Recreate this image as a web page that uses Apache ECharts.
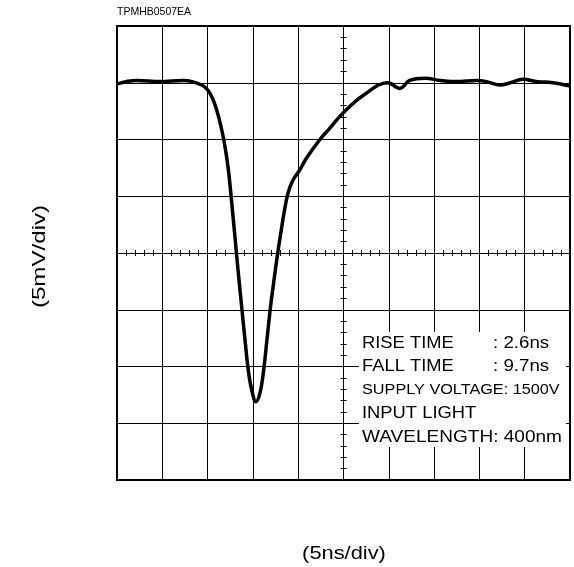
<!DOCTYPE html>
<html>
<head>
<meta charset="utf-8">
<script src="https://cdn.jsdelivr.net/npm/echarts@6/dist/echarts.min.js"></script>
<style>
html,body{margin:0;padding:0;background:#fff;}
#chart{width:574px;height:567px;}
</style>
</head>
<body>
<div id="chart"></div>
<script>
// Time (ns), 5 ns/div, 10 divisions
const timeNs = [0,2.2,4.7,7.3,9.35,10.27,11.0,11.56,11.92,12.25,12.53,12.77,13.05,13.39,13.76,14.13,14.49,14.87,15.34,15.78,16.15,16.55,16.94,17.33,17.74,18.08,18.43,18.87,19.43,20.17,20.92,22.4,23.5,24.9,27.2,29.9,31.2,32.3,34.0,35.7,37.5,39.7,40.8,42.3,43.4,44.8,46.4,48.1,50];
// Output voltage (mV), 5 mV/div, 8 divisions centred on 0
const voltageMv = [14.9,15.2,15.1,15.2,14.8,14.07,12.6,10.84,9.37,7.6,5.55,3.52,1.15,-1.76,-4.73,-7.67,-10.31,-12.07,-13.1,-12.34,-10.57,-7.67,-4.76,-2.38,0,1.76,3.5,5.26,6.43,7.31,8.37,10.0,11.0,12.3,13.9,15.0,14.5,15.2,15.4,15.2,15.1,15.2,15.1,14.8,15.0,15.3,15.1,15.0,14.7];
const infoLines = [
  ["RISE TIME", ": 2.6ns"],
  ["FALL TIME", ": 9.7ns"],
  ["SUPPLY VOLTAGE: 1500V", ""],
  ["INPUT LIGHT", ""],
  ["WAVELENGTH: 400nm", ""]
];
const titleText = "TPMHB0507EA";
const xLabel = "(5ns/div)";
const yLabel = "(5mV/div)";

const FONT = "Liberation Sans, Arial, sans-serif";
const gridRect = {left:117, top:26, right:4, bottom:87};
const chart = echarts.init(document.getElementById('chart'), null, {renderer:'canvas'});

function tickAxis(inside, extra){
  return Object.assign({
    type:'value',
    axisLine:{show:true, onZero:true, lineStyle:{color:'#000', width:1}},
    axisTick:{show:true, inside:inside, length:3, lineStyle:{color:'#000', width:1}},
    minorTick:{show:true, splitNumber:5, length:3, lineStyle:{color:'#000', width:1}},
    axisLabel:{show:false},
    splitLine:{show:false}
  }, extra);
}

const infoGraphics = [];
const lineY = [343, 366, 390, 413, 437];
const lineFont = [17, 17, 14, 17, 17];
const lineScale = [1.08, 1.08, 1.16, 1.08, 1.12];
infoLines.forEach((l, i) => {
  infoGraphics.push({
    type:'text', x:362, y:lineY[i], z:101, scaleX: lineScale[i],
    style:{text:l[0], fill:'#000', font:lineFont[i]+'px '+FONT, textVerticalAlign:'middle'}
  });
  if (l[1]) {
    infoGraphics.push({
      type:'text', x:493, y:lineY[i], z:101, scaleX:1.1,
      style:{text:l[1], fill:'#000', font:'17px '+FONT, textVerticalAlign:'middle'}
    });
  }
});

const option = {
  animation:false,
  backgroundColor:'#fff',
  title:{text:titleText, left:117, top:7, padding:0, textStyle:{fontSize:10.5, fontWeight:'normal', color:'#000', fontFamily:FONT}},
  grid:[
    Object.assign({show:true, borderColor:'#000', borderWidth:2, backgroundColor:'transparent'}, gridRect),
    Object.assign({}, gridRect),
    Object.assign({}, gridRect)
  ],
  xAxis:[
    {type:'value', gridIndex:0, min:0, max:50, interval:5,
     axisLine:{show:false}, axisTick:{show:false}, axisLabel:{show:false},
     splitLine:{show:true, lineStyle:{color:'#000', width:1}}},
    tickAxis(true, {gridIndex:1, min:-25, max:25, interval:5}),
    tickAxis(false, {gridIndex:2, min:-25, max:25, interval:5})
  ],
  yAxis:[
    {type:'value', gridIndex:0, min:-20, max:20, interval:5,
     axisLine:{show:false}, axisTick:{show:false}, axisLabel:{show:false},
     splitLine:{show:true, lineStyle:{color:'#000', width:1}}},
    tickAxis(true, {gridIndex:1, min:-20, max:20, interval:5}),
    tickAxis(false, {gridIndex:2, min:-20, max:20, interval:5})
  ],
  series:[{
    type:'line', xAxisIndex:0, yAxisIndex:0,
    data: timeNs.map((t, i) => [t, voltageMv[i]]),
    showSymbol:false, smooth:0.4, z:10,
    lineStyle:{color:'#000', width:3.5}
  }],
  graphic:[
    {type:'rect', z:100, shape:{x:359, y:332, width:207, height:115}, style:{fill:'#fff'}},
    ...infoGraphics,
    {type:'text', x:344, y:554, z:101, scaleX:1.15,
     style:{text:xLabel, fill:'#000', font:'19px '+FONT, textAlign:'center', textVerticalAlign:'middle'}},
    {type:'text', x:39.5, y:256.5, z:101, rotation:Math.PI/2, scaleX:1.27,
     style:{text:yLabel, fill:'#000', font:'19px '+FONT, textAlign:'center', textVerticalAlign:'middle'}}
  ]
};
chart.setOption(option);
</script>
</body>
</html>
